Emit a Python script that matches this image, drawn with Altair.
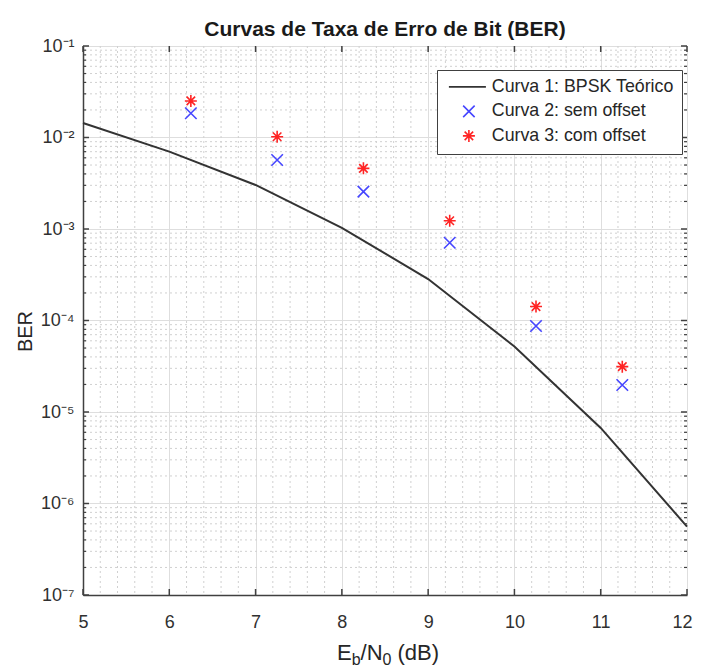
import altair as alt
import pandas as pd

# ---------------- data ----------------
ebn0_teorico = [5, 6, 7, 8, 9, 10, 11, 12]
ber_teorico = [1.44e-2, 7.0e-3, 3.03e-3, 1.03e-3, 2.84e-4, 5.2e-5, 6.7e-6, 5.6e-7]

ebn0_sim = [6.25, 7.25, 8.25, 9.25, 10.25, 11.25]
ber_sem_offset = [1.84e-2, 5.68e-3, 2.56e-3, 7.08e-4, 8.7e-5, 1.97e-5]
ber_com_offset = [2.51e-2, 1.02e-2, 4.6e-3, 1.23e-3, 1.42e-4, 3.13e-5]

series_names = ["Curva 1: BPSK Teórico", "Curva 2: sem offset", "Curva 3: com offset"]
series_colors = ["#333333", "#4646ff", "#ff2424"]

x_ticks = [5, 6, 7, 8, 9, 10, 11, 12]
x_minor = [round(5 + 0.2 * i, 1) for i in range(36) if i % 5 != 0]
y_exps = [-7, -6, -5, -4, -3, -2, -1]
y_ticks = [10.0 ** e for e in y_exps]
y_tick_labels = ["10⁻⁷", "10⁻⁶", "10⁻⁵", "10⁻⁴", "10⁻³", "10⁻²", "10⁻¹"]
y_minor = [k * 10.0 ** e for e in range(-7, -1) for k in range(2, 10)]

title_text = "Curvas de Taxa de Erro de Bit (BER)"
y_title = "BER"

# ---------------- layout ----------------
W, H = 604, 549
FONT = "Liberation Sans"
AX = "#404040"
GRID = "#dedede"
MINOR = "#d0d0d0"

df_line = pd.DataFrame({"ebn0": ebn0_teorico, "ber": ber_teorico})
df_pts = pd.DataFrame({
    "ebn0": ebn0_sim + ebn0_sim,
    "ber": ber_sem_offset + ber_com_offset,
    "serie": [series_names[1]] * len(ebn0_sim) + [series_names[2]] * len(ebn0_sim),
})
df_leg = pd.DataFrame({"serie_leg": pd.Series([], dtype=str)})
df_xt = pd.DataFrame({"v": x_ticks})
df_xm = pd.DataFrame({"v": x_minor})
df_yt = pd.DataFrame({"v": y_ticks})
df_ym = pd.DataFrame({"v": y_minor})

label_expr = " : ".join(
    f"abs(log(datum.value)/LN10 - ({e})) < 0.01 ? '{lab}'" for e, lab in zip(y_exps, y_tick_labels)
) + " : ''"

xs = alt.Scale(domain=[5, 12], nice=False, zero=False)
ys = alt.Scale(type="log", domain=[1e-7, 1e-1], nice=False)
x_axis = alt.Axis(values=x_ticks, format="d", title=None, grid=True, gridColor=GRID, gridWidth=1,
                  ticks=False, domainColor=AX, domainWidth=1.5, labelFont=FONT, labelFontSize=18,
                  labelColor="#303030", labelPadding=18, labelFlush=True, labelFlushOffset=5)
y_axis = alt.Axis(values=y_ticks, labelExpr=label_expr, title=y_title, grid=True, gridColor=GRID,
                  gridWidth=1, ticks=False, domainColor=AX, domainWidth=1.5, labelFont=FONT,
                  labelFontSize=18, labelColor="#303030", labelPadding=9, labelFlush=False,
                  titleFont=FONT, titleFontSize=20, titleFontWeight="normal", titleColor="#262626",
                  titleX=-58, titleY=285, titleAlign="center", titleBaseline="middle", titleAngle=270)


def X(field):
    return alt.X(field, type="quantitative", scale=xs, axis=x_axis)


def Y(field):
    return alt.Y(field, type="quantitative", scale=ys, axis=y_axis)


minor_v = alt.Chart(df_xm).mark_rule(color=MINOR, strokeDash=[2, 3], strokeWidth=1).encode(x=X("v"))
minor_h = alt.Chart(df_ym).mark_rule(color=MINOR, strokeDash=[2, 3], strokeWidth=1).encode(y=Y("v"))

line = alt.Chart(df_line).mark_line(color="#333333", strokeWidth=2).encode(x=X("ebn0"), y=Y("ber"))

# marker glyphs (centered) for the plot
x_path = "M-1.15,-1.15L1.15,1.15M-1.15,1.15L1.15,-1.15"
star_path = "M0,-1.2L0,1.2M-1.2,0L1.2,0M-0.85,-0.85L0.85,0.85M-0.85,0.85L0.85,-0.85"
line_path = "M-4,0L4,0"
# same glyphs shifted right for the legend (MATLAB style: markers centred on the line sample)
x_path_leg = "M1.85,-1.15L4.15,1.15M1.85,1.15L4.15,-1.15"
star_path_leg = "M3,-1.2L3,1.2M1.8,0L4.2,0M2.15,-0.85L3.85,0.85M2.15,0.85L3.85,-0.85"
line_path_leg = "M-1,0L6.4,0"

pts = alt.Chart(df_pts).mark_point(filled=False, size=100, strokeWidth=1.6, opacity=1).encode(
    x=X("ebn0"), y=Y("ber"),
    color=alt.Color("serie:N", scale=alt.Scale(domain=series_names, range=series_colors), legend=None),
    shape=alt.Shape("serie:N", scale=alt.Scale(domain=series_names, range=[line_path, x_path, star_path]),
                    legend=None),
)

leg = alt.Legend(title=None, orient="none", legendX=354, legendY=24, padding=8,
                 strokeColor=AX, fillColor="white", labelFont=FONT, labelFontSize=17.8,
                 labelColor="#262626", symbolSize=100, symbolStrokeWidth=1.6,
                 labelOffset=29, rowPadding=5.5, labelLimit=400, cornerRadius=0)

legend_layer = alt.Chart(df_leg).mark_point(filled=False, size=100, strokeWidth=1.6, opacity=1).encode(
    color=alt.Color("serie_leg:N", scale=alt.Scale(domain=series_names, range=series_colors), legend=leg),
    shape=alt.Shape("serie_leg:N",
                    scale=alt.Scale(domain=series_names, range=[line_path_leg, x_path_leg, star_path_leg]),
                    legend=leg),
)

# inside ticks (MATLAB box style)
tick_b = alt.Chart(df_xt).mark_rule(color=AX, strokeWidth=1.5).encode(x=X("v"), y=alt.value(H), y2=alt.value(H - 6))
tick_t = alt.Chart(df_xt).mark_rule(color=AX, strokeWidth=1.5).encode(x=X("v"), y=alt.value(0), y2=alt.value(6))
tick_l = alt.Chart(df_yt).mark_rule(color=AX, strokeWidth=1.5).encode(y=Y("v"), x=alt.value(0), x2=alt.value(6))
tick_r = alt.Chart(df_yt).mark_rule(color=AX, strokeWidth=1.5).encode(y=Y("v"), x=alt.value(W), x2=alt.value(W - 6))
mtick_l = alt.Chart(df_ym).mark_rule(color=AX, strokeWidth=1.2).encode(y=Y("v"), x=alt.value(0), x2=alt.value(3))
mtick_r = alt.Chart(df_ym).mark_rule(color=AX, strokeWidth=1.2).encode(y=Y("v"), x=alt.value(W), x2=alt.value(W - 3))

# x title with subscripts: E_b/N_0 (dB)
one = pd.DataFrame({"a": [0]})
F, FS = 22, 16
BASE, SUB = 614, 619
xt_pieces = []
for txt, xpos, ypos, fs in [("E", 254, BASE, F), ("b", 268.7, SUB, FS), ("/N", 277.6, BASE, F),
                            ("0", 299.6, SUB, FS), ("(dB)", 314.5, BASE, F)]:
    xt_pieces.append(
        alt.Chart(one).mark_text(text=txt, font=FONT, fontSize=fs, color="#262626", align="left",
                                 baseline="alphabetic").encode(x=alt.value(xpos), y=alt.value(ypos))
    )

chart = alt.layer(minor_v, minor_h, line, pts, legend_layer, tick_b, tick_t, tick_l, tick_r,
                  mtick_l, mtick_r, *xt_pieces).resolve_scale(
    color="independent", shape="independent"
).properties(
    width=W, height=H,
    title=alt.TitleParams(title_text, font=FONT, fontSize=21, fontWeight="bold", color="#1a1a1a",
                          anchor="middle", offset=3, dy=6),
    autosize=alt.AutoSizeParams(type="none"),
    padding={"left": 75, "top": 38, "right": 7, "bottom": 76},
).configure_view(stroke=AX, strokeWidth=1.5).configure(background="white")

chart.save("out.html", embed_options={"renderer": "svg", "actions": False})
